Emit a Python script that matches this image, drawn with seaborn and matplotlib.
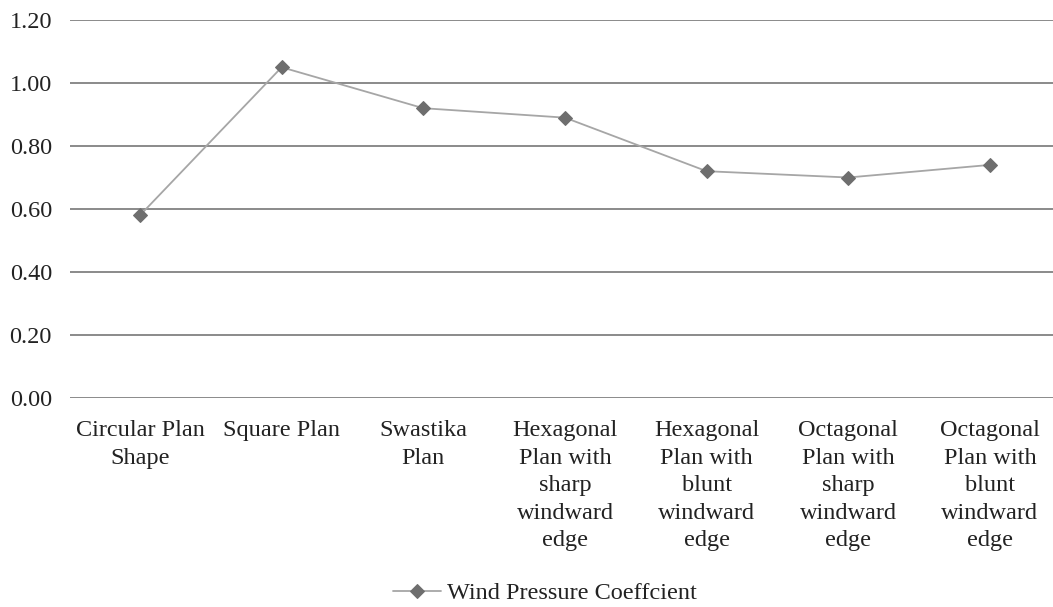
import numpy as np
import pandas as pd
import matplotlib
matplotlib.use("Agg")
import matplotlib.pyplot as plt
import seaborn as sns

# Plan shapes (tick labels, wrapped as they appear under the axis)
categories = [
    "Circular Plan\nShape",
    "Square Plan",
    "Swastika\nPlan",
    "Hexagonal\nPlan with\nsharp\nwindward\nedge",
    "Hexagonal\nPlan with\nblunt\nwindward\nedge",
    "Octagonal\nPlan with\nsharp\nwindward\nedge",
    "Octagonal\nPlan with\nblunt\nwindward\nedge",
]
coefficients = [0.58, 1.05, 0.92, 0.89, 0.72, 0.70, 0.74]
series_name = "Wind Pressure Coeffcient"
y_ticks = [0.0, 0.2, 0.4, 0.6, 0.8, 1.0, 1.2]

sns.set_theme(style="white")
plt.rcParams["font.family"] = ["Liberation Serif", "DejaVu Serif"]

df = pd.DataFrame({"pos": np.arange(len(categories)), "value": coefficients})

fig = plt.figure(figsize=(10.53, 6.07), dpi=100)
ax = fig.add_axes([70 / 1053, 1 - 398 / 607, 1 - 70 / 1053, (398 - 20) / 607])

sns.lineplot(
    data=df, x="pos", y="value", ax=ax,
    color="#a6a6a6", linewidth=1.3,
    marker="D", markersize=7.5,
    markerfacecolor="#6e6e6e", markeredgecolor="#6e6e6e",
    label=series_name, legend=False,
)

ax.set_ylim(0, 1.2)
ax.set_xlim(-0.494, 6.445)
ax.set_yticks(y_ticks)
ax.set_yticklabels([f"{v:.2f}" for v in y_ticks])
ax.set_xticks(range(len(categories)))
ax.set_xticklabels(categories)
ax.set_xlabel("")
ax.set_ylabel("")

ax.grid(axis="y", color="#8a8a8a", linewidth=1.4)
ax.grid(axis="x", visible=False)
ax.set_axisbelow(True)
for s in ax.spines.values():
    s.set_visible(False)

ax.tick_params(axis="both", length=0, labelsize=17.5, colors="#222222")
ax.tick_params(axis="y", pad=13)
ax.tick_params(axis="x", pad=16)
for t in ax.get_xticklabels():
    t.set_verticalalignment("top")
    t.set_horizontalalignment("center")
    t.set_linespacing(1.41)

handles, labels = ax.get_legend_handles_labels()
fig.legend(
    handles, labels, loc="center", bbox_to_anchor=(545 / 1053, 1 - 593 / 607),
    frameon=False, fontsize=17.5, handlelength=2.0, handletextpad=0.25,
    labelcolor="#222222",
)

fig.savefig("out.png", dpi=100)
